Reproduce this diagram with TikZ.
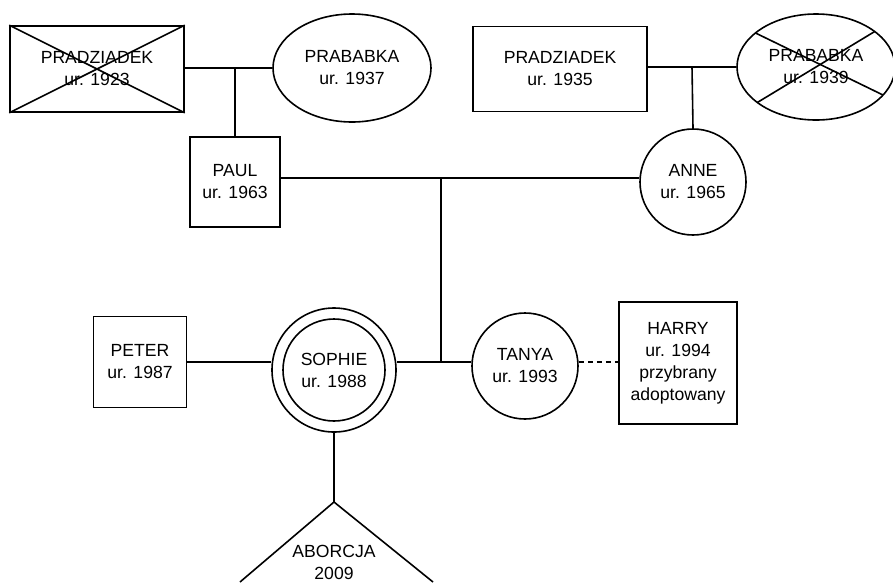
\documentclass[tikz,border=0pt]{standalone}
\usepackage{fontspec}
\setmainfont{Liberation Sans}
\usetikzlibrary{shapes.geometric,calc}

\begin{document}
\begin{tikzpicture}[x=1pt,y=-1pt,
  every node/.style={font=\fontsize{17.6}{22}\selectfont, align=center, inner sep=0pt},
  male/.style={draw, line width=1.6pt, rectangle},
  female/.style={draw, line width=1.6pt, circle},
  femaleov/.style={draw, line width=1.6pt, ellipse, minimum width=158pt, minimum height=108pt},
  link/.style={line width=1.6pt},
  adopt/.style={line width=1.6pt, dash pattern=on 5pt off 4pt}]

\useasboundingbox (0,0) rectangle (893,582);

% paternal grandparents
\node[male, minimum width=174pt, minimum height=86pt] (g1) at (97,69) {PRADZIADEK\\ur. 1923};
\node[femaleov] (g2) at (352,68) {PRABABKA\\ur. 1937};
\draw[link] (g1.north west) -- (g1.south east);
\draw[link] (g1.south west) -- (g1.north east);

% maternal grandparents
\node[male, minimum width=174pt, minimum height=85pt] (g3) at (560,69) {PRADZIADEK\\ur. 1935};
\node[femaleov, minimum height=106pt] (g4) at (816,67) {PRABABKA\\ur. 1939};
\draw[link] ($(g4.center)+(-60.5,-34)$) -- ($(g4.center)+(67,28)$);
\draw[link] ($(g4.center)+(-58.7,35.5)$) -- ($(g4.center)+(58.7,-35.5)$);

% parents
\node[male, minimum width=90pt, minimum height=90pt] (paul) at (235,182) {PAUL\\ur. 1963};
\node[female, minimum size=106pt] (anne) at (693,182) {ANNE\\ur. 1965};

% children
\node[male, minimum width=93pt, minimum height=91pt] (peter) at (140,362) {PETER\\ur. 1987};
\node[female, minimum size=102pt] (sophie) at (334,370) {SOPHIE\\ur. 1988};
\node[draw, line width=1.6pt, circle, minimum size=124pt] (sophieo) at (334,370) {};
\node[female, minimum size=106pt] (tanya) at (525,366) {TANYA\\ur. 1993};
\node[male, minimum width=118pt, minimum height=122pt] (harry) at (678,363)
  {HARRY\\ur. 1994\\przybrany\\adoptowany};

% junction points
\coordinate (m1) at (235,68);
\coordinate (m2) at (692,67);
\coordinate (m3) at (441,178);
\coordinate (m4) at (441,362);
\coordinate (ab) at (334,502);
\coordinate (abl) at (240,582);
\coordinate (abr) at (433,582);

% couples and descent
\draw[link] (g1.east |- m1) -- (g2.west |- m1);
\draw[link] (m1) -- (paul.north);
\draw[link] (g3.east |- m2) -- (g4.west |- m2);
\draw[link] (m2) -- (anne.north);
\draw[link] (paul.east |- m3) -- (anne.west |- m3);
\draw[link] (m3) -- (m4);
\draw[link] (sophieo.east |- m4) -- (tanya.west |- m4);
\draw[link] (peter.east |- m4) -- (sophieo.west |- m4);
\draw[adopt] (tanya.east |- m4) -- (harry.west |- m4);

% pregnancy loss
\draw[link] (sophieo.south) -- (ab);
\draw[link] (abl) -- (ab) -- (abr);
\node (abort) at (334,562) {ABORCJA\\2009};

\end{tikzpicture}
\end{document}
